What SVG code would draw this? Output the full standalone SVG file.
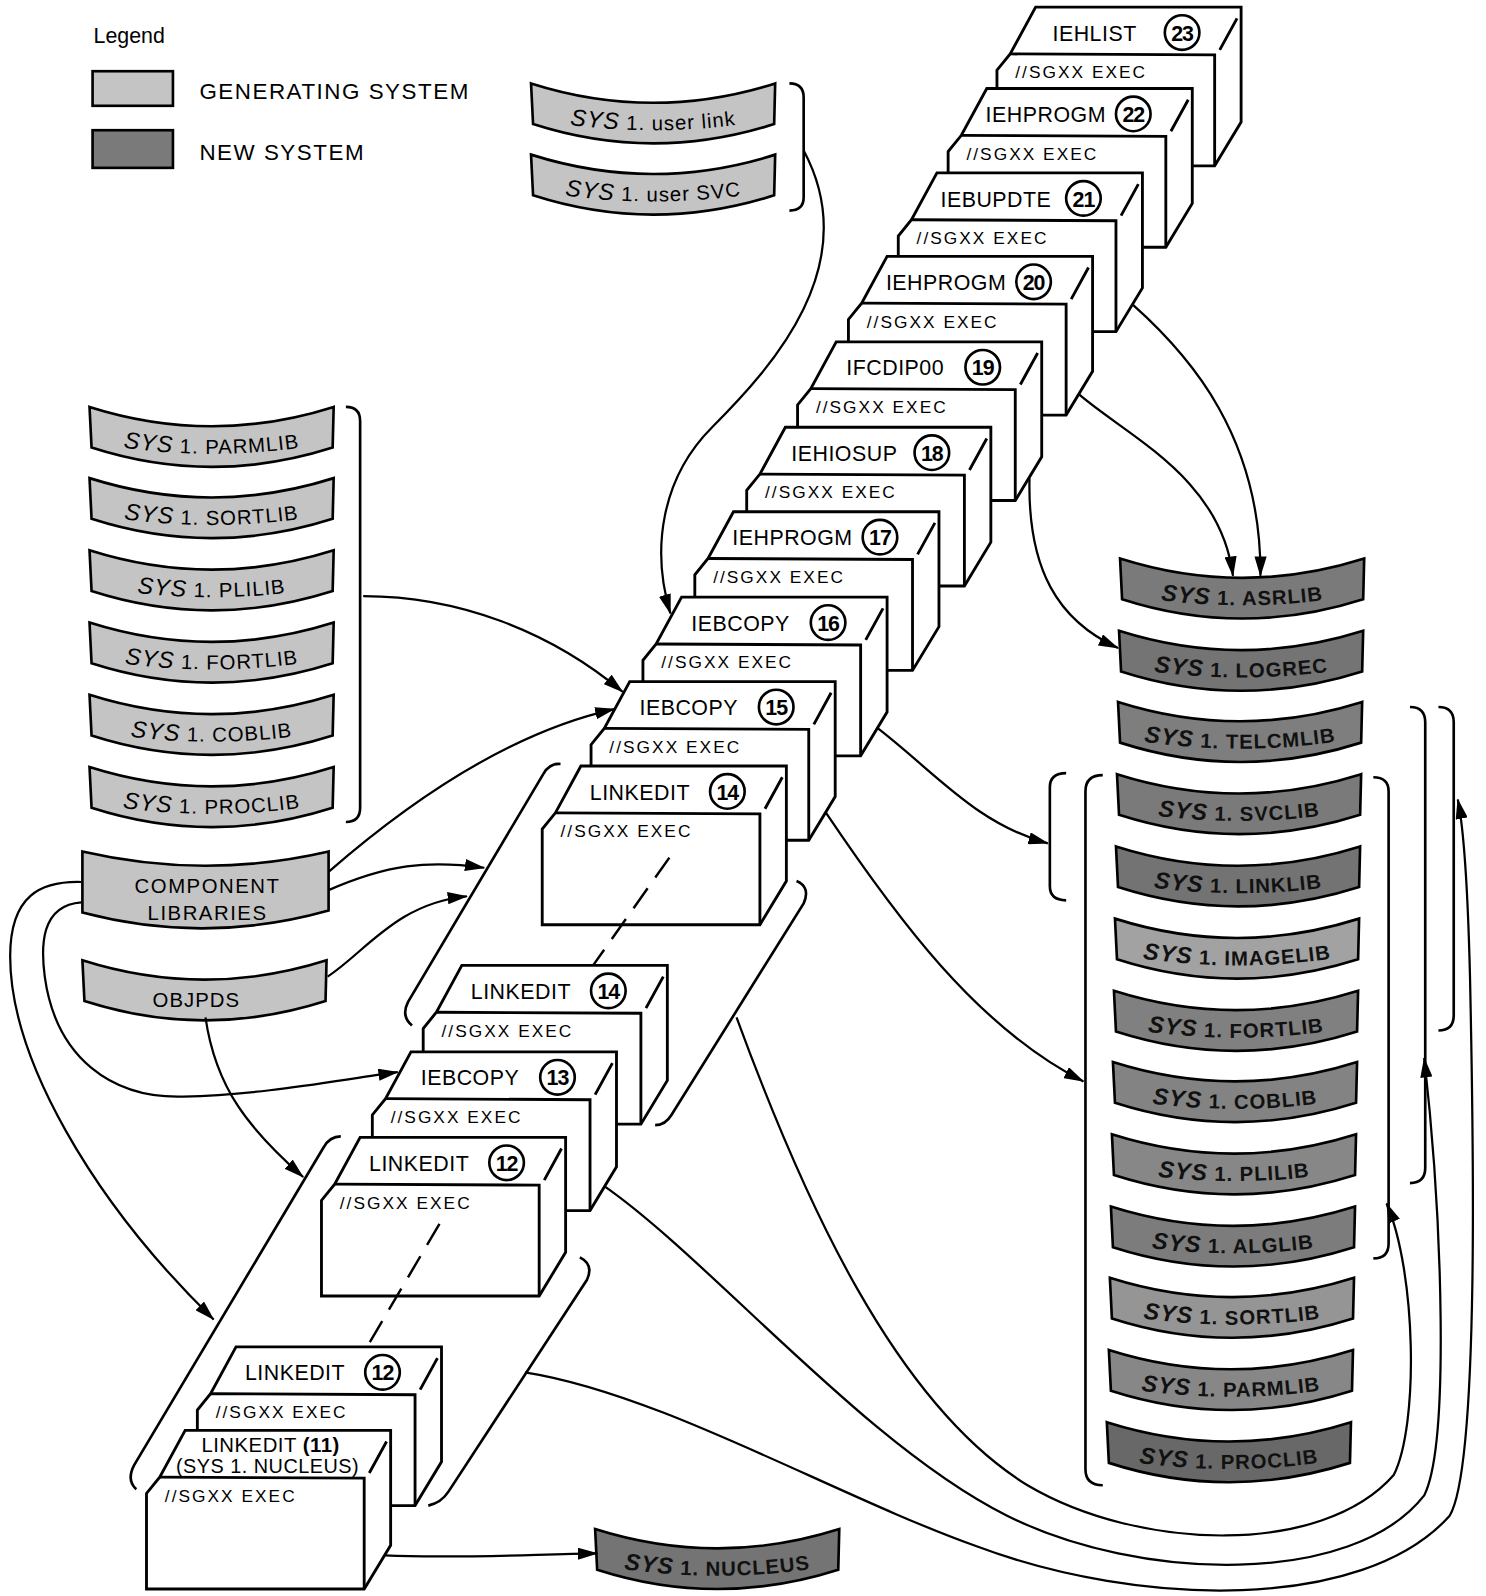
<svg xmlns="http://www.w3.org/2000/svg" width="1486" height="1596" viewBox="0 0 1486 1596">
<style>
text{font-family:"Liberation Sans",Arial,sans-serif;fill:#000}
.gen{fill:#c4c4c4;stroke:#000;stroke-width:2.6}
.new{fill:#7a7a7a;stroke:#000;stroke-width:2.6}
.card{fill:#fff;stroke:#000;stroke-width:2.8;stroke-linejoin:miter}
.cl{fill:none;stroke:#000;stroke-width:2.8}
.num{fill:none;stroke:#000;stroke-width:2.6}
.nm{font-size:21px;letter-spacing:0.5px;text-anchor:middle}
.nt{font-size:21px;font-weight:bold;letter-spacing:-1px;text-anchor:middle}
.ex{font-size:17px;letter-spacing:2px}
.bt{font-size:20px;letter-spacing:1px;text-anchor:middle}
.bd{font-size:20px;letter-spacing:1px;text-anchor:middle;font-weight:bold;fill:#111}
.sys{font-style:italic;font-size:23px}
.ln{fill:none;stroke:#000;stroke-width:2.2}
.br{fill:none;stroke:#000;stroke-width:2.6}
.dash{fill:none;stroke:#000;stroke-width:2.4;stroke-dasharray:24 13}
.lg{font-size:22px;letter-spacing:1.5px}
</style>
<defs>
<marker id="ah" markerWidth="20" markerHeight="12" refX="19" refY="6" orient="auto" markerUnits="userSpaceOnUse"><path d="M0,0 L20,6 L0,12 Z" fill="#000"/></marker>
<path id="bs" d="M0,0 Q120,38 240,0 L239,40 Q120,78 2,40 Z"/>
<path id="bc" d="M0,0 Q121,28 242,0 L242,58 Q121,92 0,60 Z"/>
<path id="bp" d="M6,36 Q120,56 234,36"/>
<path id="co" d="M0,0 L202,0 L202,113 L176,156 L-38,156 L-38,62 L-25,46 Z"/>
<path id="ci" d="M-25,46 L176,47 L176,156 M181,42 L198,11"/>
</defs>
<g transform="scale(1.0173)">

<g id="legend">
<text x="92" y="42" style="font-size:21px">Legend</text>
<rect x="91" y="70" width="79" height="34" class="gen"/>
<text x="196" y="97" class="lg">GENERATING SYSTEM</text>
<rect x="91" y="128" width="79" height="37" class="new"/>
<text x="196" y="157" class="lg">NEW SYSTEM</text>
</g>

<g id="lib-userlink" transform="translate(522,82)"><use href="#bs" class="gen"/><text class="bt"><textPath href="#bp" startOffset="50%"><tspan class="sys">SYS</tspan> 1. user link</textPath></text></g>
<g id="lib-usersvc" transform="translate(522,152)"><use href="#bs" class="gen"/><text class="bt"><textPath href="#bp" startOffset="50%"><tspan class="sys">SYS</tspan> 1. user SVC</textPath></text></g>

<g id="lib-g-parmlib" transform="translate(88,400)"><use href="#bs" class="gen"/><text class="bt"><textPath href="#bp" startOffset="50%"><tspan class="sys">SYS</tspan> 1. PARMLIB</textPath></text></g>
<g id="lib-g-sortlib" transform="translate(88,470)"><use href="#bs" class="gen"/><text class="bt"><textPath href="#bp" startOffset="50%"><tspan class="sys">SYS</tspan> 1. SORTLIB</textPath></text></g>
<g id="lib-g-plilib" transform="translate(88,541)"><use href="#bs" class="gen"/><text class="bt"><textPath href="#bp" startOffset="50%"><tspan class="sys">SYS</tspan> 1. PLILIB</textPath></text></g>
<g id="lib-g-fortlib" transform="translate(88,612)"><use href="#bs" class="gen"/><text class="bt"><textPath href="#bp" startOffset="50%"><tspan class="sys">SYS</tspan> 1. FORTLIB</textPath></text></g>
<g id="lib-g-coblib" transform="translate(88,683)"><use href="#bs" class="gen"/><text class="bt"><textPath href="#bp" startOffset="50%"><tspan class="sys">SYS</tspan> 1. COBLIB</textPath></text></g>
<g id="lib-g-proclib" transform="translate(88,754)"><use href="#bs" class="gen"/><text class="bt"><textPath href="#bp" startOffset="50%"><tspan class="sys">SYS</tspan> 1. PROCLIB</textPath></text></g>

<g id="lib-component" transform="translate(81,837)"><use href="#bc" class="gen"/><text x="123" y="41" class="bt" style="letter-spacing:1.5px">COMPONENT</text><text x="123" y="67" class="bt" style="letter-spacing:1.5px">LIBRARIES</text></g>
<g id="lib-objpds" transform="translate(81,944)"><use href="#bs" class="gen"/><text x="112" y="46" class="bt">OBJPDS</text></g>

<g id="lib-n-asrlib" transform="translate(1101,549)"><use href="#bs" class="new"/><text class="bd"><textPath href="#bp" startOffset="50%"><tspan class="sys">SYS</tspan> 1. ASRLIB</textPath></text></g>
<g id="lib-n-logrec" transform="translate(1100,620)"><use href="#bs" class="new" style="fill:#747474"/><text class="bd"><textPath href="#bp" startOffset="50%"><tspan class="sys">SYS</tspan> 1. LOGREC</textPath></text></g>
<g id="lib-n-telcmlib" transform="translate(1099,690)"><use href="#bs" class="new" style="fill:#7e7e7e"/><text class="bd"><textPath href="#bp" startOffset="50%"><tspan class="sys">SYS</tspan> 1. TELCMLIB</textPath></text></g>
<g id="lib-n-svclib" transform="translate(1098,761)"><use href="#bs" class="new"/><text class="bd"><textPath href="#bp" startOffset="50%"><tspan class="sys">SYS</tspan> 1. SVCLIB</textPath></text></g>
<g id="lib-n-linklib" transform="translate(1097,832)"><use href="#bs" class="new" style="fill:#737373"/><text class="bd"><textPath href="#bp" startOffset="50%"><tspan class="sys">SYS</tspan> 1. LINKLIB</textPath></text></g>
<g id="lib-n-imagelib" transform="translate(1096,903)"><use href="#bs" class="new" style="fill:#a2a2a2"/><text class="bd"><textPath href="#bp" startOffset="50%"><tspan class="sys">SYS</tspan> 1. IMAGELIB</textPath></text></g>
<g id="lib-n-fortlib" transform="translate(1095,974)"><use href="#bs" class="new" style="fill:#808080"/><text class="bd"><textPath href="#bp" startOffset="50%"><tspan class="sys">SYS</tspan> 1. FORTLIB</textPath></text></g>
<g id="lib-n-coblib" transform="translate(1094,1044)"><use href="#bs" class="new" style="fill:#838383"/><text class="bd"><textPath href="#bp" startOffset="50%"><tspan class="sys">SYS</tspan> 1. COBLIB</textPath></text></g>
<g id="lib-n-plilib" transform="translate(1093,1115)"><use href="#bs" class="new" style="fill:#878787"/><text class="bd"><textPath href="#bp" startOffset="50%"><tspan class="sys">SYS</tspan> 1. PLILIB</textPath></text></g>
<g id="lib-n-alglib" transform="translate(1092,1186)"><use href="#bs" class="new" style="fill:#7c7c7c"/><text class="bd"><textPath href="#bp" startOffset="50%"><tspan class="sys">SYS</tspan> 1. ALGLIB</textPath></text></g>
<g id="lib-n-sortlib" transform="translate(1091,1256)"><use href="#bs" class="new" style="fill:#959595"/><text class="bd"><textPath href="#bp" startOffset="50%"><tspan class="sys">SYS</tspan> 1. SORTLIB</textPath></text></g>
<g id="lib-n-parmlib" transform="translate(1090,1327)"><use href="#bs" class="new" style="fill:#878787"/><text class="bd"><textPath href="#bp" startOffset="50%"><tspan class="sys">SYS</tspan> 1. PARMLIB</textPath></text></g>
<g id="lib-n-proclib" transform="translate(1088,1398)"><use href="#bs" class="new" style="fill:#686868"/><text class="bd"><textPath href="#bp" startOffset="50%"><tspan class="sys">SYS</tspan> 1. PROCLIB</textPath></text></g>
<g id="lib-n-nucleus" transform="translate(585,1503)"><use href="#bs" class="new" style="fill:#747474"/><text class="bd"><textPath href="#bp" startOffset="50%"><tspan class="sys">SYS</tspan> 1. NUCLEUS</textPath></text></g>

<g id="brackets">
<path class="br" d="M776,82 Q790,82 790,96 L790,194 Q790,207 776,207"/>
<path class="br" d="M340,400 Q354,400 354,414 L354,794 Q354,808 340,808"/>
<path class="br" d="M1048,760 Q1032,760 1032,774 L1032,871 Q1032,885 1048,885"/>
<path class="br" d="M1084,762 Q1067,762 1067,778 L1067,1444 Q1067,1460 1084,1460"/>
<path class="br" d="M1350,764 Q1365,764 1365,778 L1365,1222 Q1365,1237 1350,1237"/>
<path class="br" d="M1386,695 Q1401,695 1401,710 L1401,1148 Q1401,1163 1386,1163"/>
<path class="br" d="M1414,695 Q1429,695 1429,710 L1429,998 Q1429,1013 1414,1013"/>
<path class="br" d="M551,751 Q540,750 534,761 L401,985 Q394,999 405,1008"/>
<path class="br" d="M783,866 Q797,872 790,888 L660,1096 Q654,1106 644,1106"/>
<path class="br" d="M335,1117 Q324,1117 318,1128 L132,1440 Q124,1455 134,1464"/>
<path class="br" d="M570,1236 Q584,1243 577,1258 L441,1466 Q434,1477 421,1480"/>
</g>

<g id="job-23" transform="translate(1018,7)"><use href="#co" class="card"/><use href="#ci" class="cl"/><text x="58" y="33" class="nm">IEHLIST</text><circle cx="144" cy="25" r="17" class="num"/><text x="144" y="33" class="nt">23</text><text x="-20" y="70" class="ex">//SGXX EXEC</text></g>
<g id="job-22" transform="translate(970,87)"><use href="#co" class="card"/><use href="#ci" class="cl"/><text x="58" y="33" class="nm">IEHPROGM</text><circle cx="144" cy="25" r="17" class="num"/><text x="144" y="33" class="nt">22</text><text x="-20" y="70" class="ex">//SGXX EXEC</text></g>
<g id="job-21" transform="translate(921,170)"><use href="#co" class="card"/><use href="#ci" class="cl"/><text x="58" y="33" class="nm">IEBUPDTE</text><circle cx="144" cy="25" r="17" class="num"/><text x="144" y="33" class="nt">21</text><text x="-20" y="70" class="ex">//SGXX EXEC</text></g>
<g id="job-20" transform="translate(872,252)"><use href="#co" class="card"/><use href="#ci" class="cl"/><text x="58" y="33" class="nm">IEHPROGM</text><circle cx="144" cy="25" r="17" class="num"/><text x="144" y="33" class="nt">20</text><text x="-20" y="70" class="ex">//SGXX EXEC</text></g>
<g id="job-19" transform="translate(822,336)"><use href="#co" class="card"/><use href="#ci" class="cl"/><text x="58" y="33" class="nm">IFCDIP00</text><circle cx="144" cy="25" r="17" class="num"/><text x="144" y="33" class="nt">19</text><text x="-20" y="70" class="ex">//SGXX EXEC</text></g>
<g id="job-18" transform="translate(772,420)"><use href="#co" class="card"/><use href="#ci" class="cl"/><text x="58" y="33" class="nm">IEHIOSUP</text><circle cx="144" cy="25" r="17" class="num"/><text x="144" y="33" class="nt">18</text><text x="-20" y="70" class="ex">//SGXX EXEC</text></g>
<g id="job-17" transform="translate(721,503)"><use href="#co" class="card"/><use href="#ci" class="cl"/><text x="58" y="33" class="nm">IEHPROGM</text><circle cx="144" cy="25" r="17" class="num"/><text x="144" y="33" class="nt">17</text><text x="-20" y="70" class="ex">//SGXX EXEC</text></g>
<g id="job-16" transform="translate(670,587)"><use href="#co" class="card"/><use href="#ci" class="cl"/><text x="58" y="33" class="nm">IEBCOPY</text><circle cx="144" cy="25" r="17" class="num"/><text x="144" y="33" class="nt">16</text><text x="-20" y="70" class="ex">//SGXX EXEC</text></g>
<g id="job-15" transform="translate(619,670)"><use href="#co" class="card"/><use href="#ci" class="cl"/><text x="58" y="33" class="nm">IEBCOPY</text><circle cx="144" cy="25" r="17" class="num"/><text x="144" y="33" class="nt">15</text><text x="-20" y="70" class="ex">//SGXX EXEC</text></g>
<g id="job-14" transform="translate(571,753)"><use href="#co" class="card"/><use href="#ci" class="cl"/><text x="58" y="33" class="nm">LINKEDIT</text><circle cx="144" cy="25" r="17" class="num"/><text x="144" y="33" class="nt">14</text><text x="-20" y="70" class="ex">//SGXX EXEC</text></g>

<g id="job-14b" transform="translate(454,949)"><use href="#co" class="card"/><use href="#ci" class="cl"/><text x="58" y="33" class="nm">LINKEDIT</text><circle cx="144" cy="25" r="17" class="num"/><text x="144" y="33" class="nt">14</text><text x="-20" y="70" class="ex">//SGXX EXEC</text></g>
<g id="job-13" transform="translate(404,1034)"><use href="#co" class="card"/><use href="#ci" class="cl"/><text x="58" y="33" class="nm">IEBCOPY</text><circle cx="144" cy="25" r="17" class="num"/><text x="144" y="33" class="nt">13</text><text x="-20" y="70" class="ex">//SGXX EXEC</text></g>
<g id="job-12a" transform="translate(354,1118)"><use href="#co" class="card"/><use href="#ci" class="cl"/><text x="58" y="33" class="nm">LINKEDIT</text><circle cx="144" cy="25" r="17" class="num"/><text x="144" y="33" class="nt">12</text><text x="-20" y="70" class="ex">//SGXX EXEC</text></g>
<g id="job-12b" transform="translate(232,1324)"><use href="#co" class="card"/><use href="#ci" class="cl"/><text x="58" y="33" class="nm">LINKEDIT</text><circle cx="144" cy="25" r="17" class="num"/><text x="144" y="33" class="nt">12</text><text x="-20" y="70" class="ex">//SGXX EXEC</text></g>
<g id="job-11" transform="translate(182,1406)"><use href="#co" class="card"/><use href="#ci" class="cl"/><text x="84" y="21" class="nm" style="font-size:20px">LINKEDIT <tspan font-weight="bold">(11)</tspan></text><text x="81" y="42" class="nm" style="font-size:19.5px">(SYS 1. NUCLEUS)</text><text x="-20" y="70" class="ex">//SGXX EXEC</text></g>

<g id="connectors">
<path class="dash" d="M658,843 L583,949"/>
<path class="dash" d="M432,1203 L362,1322"/>
<path class="ln" marker-end="url(#ah)" d="M790,148 C850,260 760,360 700,420 C650,470 640,540 659,603"/>
<path class="ln" marker-end="url(#ah)" d="M357,586 C450,586 540,620 612,680"/>
<path class="ln" marker-end="url(#ah)" d="M323,857 C400,790 500,720 604,697"/>
<path class="ln" marker-end="url(#ah)" d="M323,875 C380,850 420,845 476,853"/>
<path class="ln" marker-end="url(#ah)" d="M322,960 C360,935 390,888 459,881"/>
<path class="ln" marker-end="url(#ah)" d="M80,867 C40,866 10,880 10,940 C10,1040 90,1180 210,1297"/>
<path class="ln" marker-end="url(#ah)" d="M80,887 C40,890 40,930 44,960 C55,1040 110,1080 180,1078 C260,1076 330,1062 391,1054"/>
<path class="ln" marker-end="url(#ah)" d="M202,1000 C212,1070 245,1110 298,1157"/>
<path class="ln" marker-end="url(#ah)" d="M1114,300 C1170,350 1240,430 1239,566"/>
<path class="ln" marker-end="url(#ah)" d="M1061,388 C1110,430 1200,470 1212,566"/>
<path class="ln" marker-end="url(#ah)" d="M1012,470 C1010,560 1040,610 1099,637"/>
<path class="ln" marker-end="url(#ah)" d="M863,716 C920,760 960,810 1030,829"/>
<path class="ln" marker-end="url(#ah)" d="M812,799 C880,900 960,1010 1065,1063"/>
<path class="ln" marker-end="url(#ah)" d="M724,1000 C790,1180 880,1380 1010,1460 C1120,1525 1300,1530 1370,1450 C1395,1400 1392,1250 1363,1183"/>
<path class="ln" marker-end="url(#ah)" d="M594,1166 C700,1240 850,1420 990,1490 C1120,1555 1330,1560 1400,1470 C1425,1420 1418,1200 1400,1040"/>
<path class="ln" marker-end="url(#ah)" d="M516,1349 C650,1370 820,1470 960,1520 C1120,1580 1340,1585 1425,1490 C1455,1440 1448,1100 1445,960 C1443,880 1440,820 1433,786"/>
<path class="ln" marker-end="url(#ah)" d="M378,1529 C450,1532 520,1528 587,1527"/>
</g>
</g>
</svg>
